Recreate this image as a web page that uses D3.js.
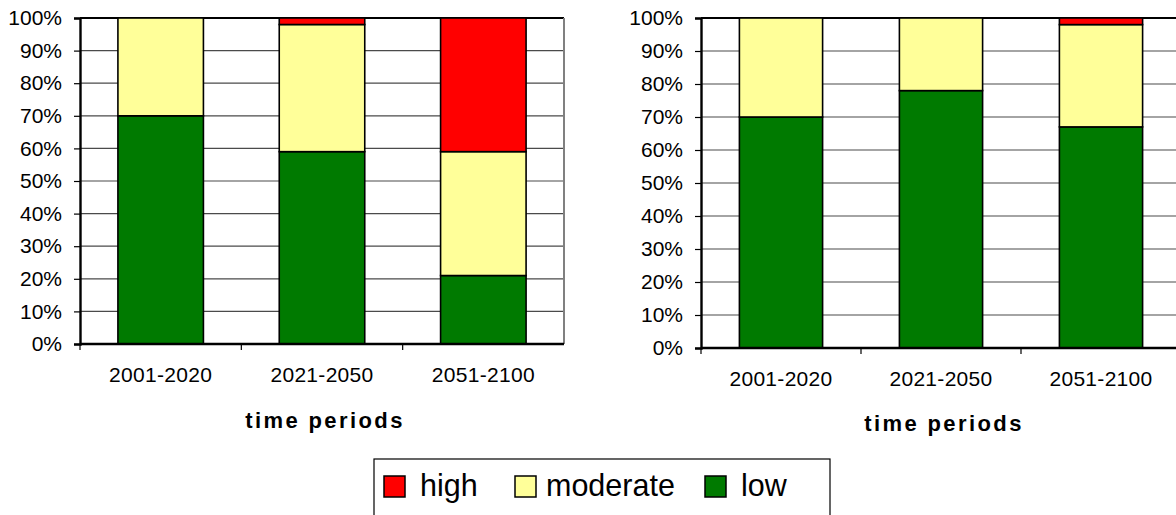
<!DOCTYPE html>
<html>
<head>
<meta charset="utf-8">
<script src="https://cdn.jsdelivr.net/npm/d3@7"></script>
<style>
  body { margin: 0; background: #fff; }
  svg { display: block; font-family: "Liberation Sans", Arial, sans-serif; }
</style>
</head>
<body>
<svg id="chart" width="1176" height="515"></svg>
<script>
// Periods and risk class shares (percent) for the two panels
const periods = ["2001-2020", "2021-2050", "2051-2100"];
const classes = ["low", "moderate", "high"];
const legendOrder = ["high", "moderate", "low"];
const leftLow = [70, 59, 21];
const leftModerate = [30, 39, 38];
const leftHigh = [0, 2, 41];
const rightLow = [70, 78, 67];
const rightModerate = [30, 22, 31];
const rightHigh = [0, 0, 2];
const yTicks = [0, 10, 20, 30, 40, 50, 60, 70, 80, 90, 100];
const axisTitle = "time periods";

const colors = { low: "#007A00", moderate: "#FFFF99", high: "#FF0000" };

const svg = d3.select("#chart");

function rows(low, moderate, high) {
  return periods.map((p, i) => ({ period: p, low: low[i], moderate: moderate[i], high: high[i] }));
}

function panel(data, box, pad) {
  const g = svg.append("g");
  const x = d3.scaleBand().domain(periods).range([box.x0, box.x1])
    .paddingInner(pad).paddingOuter(pad / 2);
  const y = d3.scaleLinear().domain([0, 100]).range([box.y0, box.y1]);

  // horizontal gridlines
  g.append("g").selectAll("line").data(yTicks.filter(t => t > 0 && t < 100)).join("line")
    .attr("x1", box.x0).attr("x2", box.x1)
    .attr("y1", d => y(d)).attr("y2", d => y(d))
    .attr("stroke", "#4a4a4a").attr("stroke-width", 1.2);
  // plot frame: top line black, right side gray
  g.append("line").attr("x1", box.x0).attr("x2", box.x1)
    .attr("y1", y(100)).attr("y2", y(100)).attr("stroke", "#000").attr("stroke-width", 2);
  g.append("line").attr("x1", box.x1).attr("x2", box.x1)
    .attr("y1", y(100)).attr("y2", y(0)).attr("stroke", "#808080").attr("stroke-width", 2);

  // stacked bars
  const series = d3.stack().keys(classes)(data);
  g.append("g").selectAll("g").data(series).join("g")
    .attr("fill", d => colors[d.key])
    .selectAll("rect").data(d => d.filter(s => s[1] - s[0] > 0)).join("rect")
    .attr("x", d => x(d.data.period))
    .attr("width", x.bandwidth())
    .attr("y", d => y(d[1]))
    .attr("height", d => y(d[0]) - y(d[1]))
    .attr("stroke", "#000").attr("stroke-width", 1.6);

  // y axis
  const ya = g.append("g").attr("transform", `translate(${box.x0},0)`)
    .call(d3.axisLeft(y).tickValues(yTicks).tickFormat(d => d + "%").tickSize(6).tickPadding(12));
  ya.select(".domain").attr("stroke", "#000").attr("stroke-width", 2.4);
  ya.selectAll(".tick line").attr("stroke", "#000").attr("stroke-width", 1.2);
  ya.selectAll(".tick text").attr("font-size", 21).attr("fill", "#000")
    .attr("font-family", "'Liberation Sans', Arial, sans-serif");

  // x axis baseline with ticks at category boundaries
  const step = x.step();
  const bounds = d3.range(periods.length).map(i => box.x0 + i * step);
  g.append("line").attr("x1", box.x0).attr("x2", box.x1)
    .attr("y1", y(0)).attr("y2", y(0)).attr("stroke", "#000").attr("stroke-width", 2.4);
  g.append("g").selectAll("line").data(bounds).join("line")
    .attr("x1", d => d).attr("x2", d => d)
    .attr("y1", y(0)).attr("y2", y(0) + 6)
    .attr("stroke", "#000").attr("stroke-width", 1.2);
  g.append("g").selectAll("text").data(periods).join("text")
    .attr("x", d => x(d) + x.bandwidth() / 2)
    .attr("y", y(0) + 38)
    .attr("text-anchor", "middle")
    .attr("font-size", 21).attr("letter-spacing", "0.3px")
    .text(d => d);

  g.append("text")
    .attr("x", (box.x0 + box.x1) / 2 + 3)
    .attr("y", box.titleY)
    .attr("text-anchor", "middle")
    .attr("font-size", 22).attr("font-weight", "bold").attr("letter-spacing", "2.4px")
    .text(axisTitle);
}

panel(rows(leftLow, leftModerate, leftHigh), { x0: 80, x1: 564, y0: 344, y1: 18, titleY: 428 }, 0.47);
panel(rows(rightLow, rightModerate, rightHigh), { x0: 701, x1: 1181, y0: 348, y1: 18, titleY: 431 }, 0.48);

// legend
const lg = svg.append("g");
lg.append("rect").attr("x", 374).attr("y", 459).attr("width", 456).attr("height", 70)
  .attr("fill", "#fff").attr("stroke", "#000").attr("stroke-width", 1.2);
const legendX = { high: 384, moderate: 515, low: 705 };
const items = lg.selectAll("g.item").data(legendOrder).join("g").attr("class", "item")
  .attr("transform", d => `translate(${legendX[d]},476)`);
items.append("rect").attr("width", 21).attr("height", 21)
  .attr("fill", d => colors[d]).attr("stroke", "#000").attr("stroke-width", 1.5);
items.append("text").attr("x", d => d === "moderate" ? 31 : 36).attr("y", 20)
  .attr("font-size", 30.5).text(d => d);
</script>
</body>
</html>
